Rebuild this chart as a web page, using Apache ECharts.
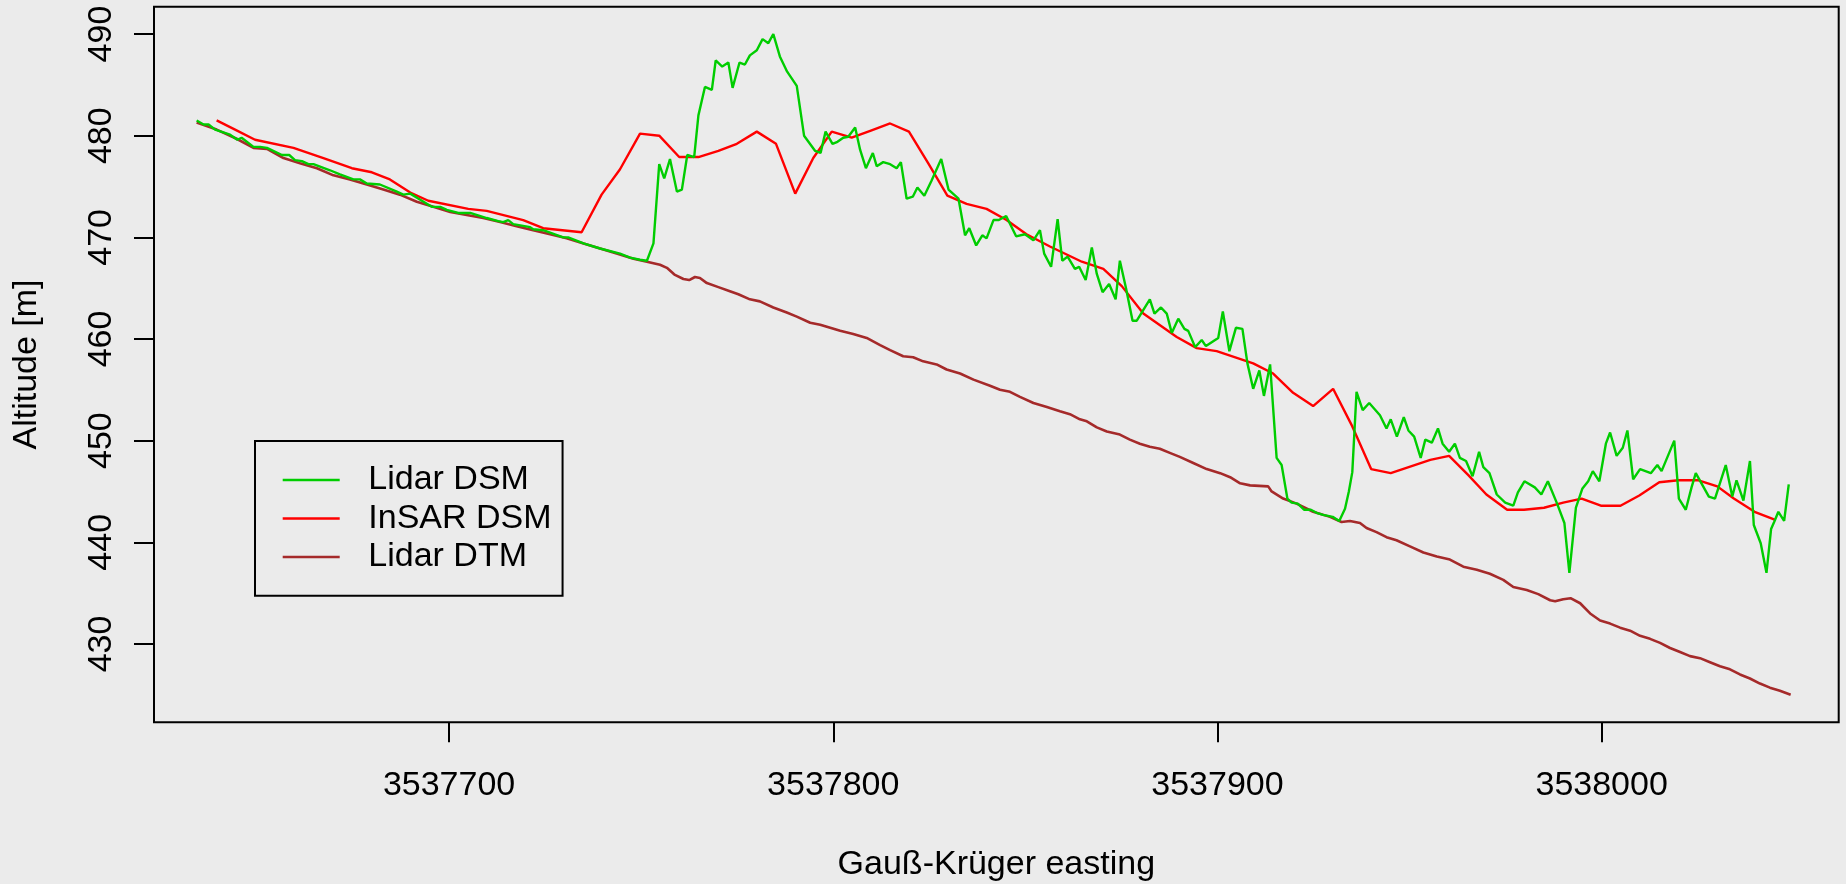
<!DOCTYPE html>
<html>
<head>
<meta charset="utf-8">
<title>Altitude profile</title>
<script src="https://cdn.jsdelivr.net/npm/echarts@6/dist/echarts.min.js"></script>
<style>
  html, body { margin: 0; padding: 0; background: #EBEBEB; }
  #chart { width: 1846px; height: 884px; }
</style>
</head>
<body>
<div id="chart"></div>
<script>
// Profile along the Gauß-Krüger easting: surface and terrain models.

const xTickValues = [3537700, 3537800, 3537900, 3538000];
const yTickValues = [430, 440, 450, 460, 470, 480, 490];

// Lidar surface model (DSM)
const lidarDsmEasting = [
  3537634.3, 3537636.1, 3537637.4, 3537639.1, 3537643.0, 3537644.9, 3537646.0, 3537649.1, 3537650.8, 3537652.6,
  3537656.5, 3537658.4, 3537659.9, 3537661.7, 3537663.4, 3537664.7, 3537669.0, 3537671.6, 3537675.1, 3537676.8,
  3537678.6, 3537682.0, 3537686.4, 3537688.1, 3537689.9, 3537692.5, 3537695.5, 3537697.7, 3537699.4, 3537702.4,
  3537705.5, 3537709.8, 3537712.8, 3537714.1, 3537715.4, 3537716.7, 3537721.1, 3537721.9, 3537724.5, 3537729.7,
  3537731.0, 3537735.0, 3537739.3, 3537744.5, 3537747.1, 3537749.7, 3537751.5, 3537753.2, 3537754.7, 3537756.0,
  3537757.5, 3537759.3, 3537760.6, 3537762.0, 3537763.8, 3537764.9, 3537766.6, 3537768.4, 3537769.4, 3537771.1,
  3537772.7, 3537773.8, 3537775.6, 3537777.0, 3537778.3, 3537780.1, 3537781.6, 3537783.1, 3537784.4, 3537786.1,
  3537788.0, 3537790.5, 3537792.4, 3537795.3, 3537796.7, 3537798.0, 3537799.8, 3537801.1, 3537802.6, 3537803.9,
  3537805.7, 3537807.0, 3537808.5, 3537810.3, 3537811.3, 3537813.0, 3537814.8, 3537816.5, 3537817.6, 3537819.1,
  3537820.7, 3537821.9, 3537823.7, 3537825.6, 3537828.1, 3537830.0, 3537832.6, 3537834.3, 3537835.4, 3537837.2,
  3537838.8, 3537839.9, 3537841.7, 3537843.1, 3537845.0, 3537847.6, 3537849.9, 3537852.1, 3537853.8, 3537854.9,
  3537856.7, 3537858.4, 3537859.6, 3537861.0, 3537862.9, 3537864.0, 3537865.7, 3537867.3, 3537868.6, 3537870.1,
  3537871.8, 3537873.5, 3537874.6, 3537876.2, 3537877.9, 3537879.0, 3537882.4, 3537883.6, 3537885.3, 3537886.8,
  3537888.1, 3537889.8, 3537891.4, 3537892.4, 3537894.2, 3537895.9, 3537897.0, 3537900.2, 3537901.4, 3537903.1,
  3537904.8, 3537906.5, 3537907.8, 3537909.3, 3537910.9, 3537912.1, 3537913.7, 3537915.4, 3537916.7, 3537918.2,
  3537919.3, 3537920.9, 3537922.6, 3537924.3, 3537925.8, 3537927.5, 3537930.0, 3537931.7, 3537933.2, 3537934.2,
  3537935.1, 3537936.2, 3537937.8, 3537939.5, 3537942.3, 3537944.0, 3537945.1, 3537946.7, 3537948.5, 3537949.7,
  3537951.2, 3537952.9, 3537954.1, 3537955.8, 3537957.4, 3537958.6, 3537960.3, 3537961.8, 3537963.1, 3537964.7,
  3537966.4, 3537968.1, 3537969.2, 3537970.8, 3537972.7, 3537974.9, 3537977.0, 3537978.2, 3537979.9, 3537982.6,
  3537984.3, 3537986.0, 3537988.4, 3537990.3, 3537991.6, 3537993.3, 3537995.0, 3537996.5, 3537997.7, 3537999.4,
  3538001.1, 3538002.2, 3538003.9, 3538005.5, 3538006.7, 3538008.2, 3538010.0, 3538012.8, 3538014.5, 3538015.6,
  3538018.9, 3538020.1, 3538021.9, 3538023.4, 3538024.5, 3538027.9, 3538029.5, 3538032.3, 3538034.0, 3538035.1,
  3538036.9, 3538038.6, 3538039.6, 3538041.4, 3538042.9, 3538044.1, 3538044.9, 3538046.0, 3538047.5, 3538048.7
];
const lidarDsmAltitude = [
  481.5, 481.1, 481.1, 480.6, 480.1, 479.6, 479.8, 478.9, 478.9, 478.8,
  478.1, 478.1, 477.6, 477.5, 477.2, 477.2, 476.6, 476.2, 475.7, 475.7,
  475.3, 475.2, 474.5, 474.2, 474.3, 473.7, 473.0, 473.0, 472.7, 472.4,
  472.4, 471.9, 471.6, 471.5, 471.7, 471.3, 471.0, 470.8, 470.7, 470.0,
  470.0, 469.4, 468.9, 468.4, 468.0, 467.8, 467.7, 469.4, 477.2, 475.8,
  477.7, 474.5, 474.7, 478.1, 477.9, 482.0, 484.8, 484.5, 487.4, 486.8,
  487.2, 484.7, 487.2, 487.0, 487.9, 488.4, 489.5, 489.1, 490.0, 487.8,
  486.3, 484.9, 480.0, 478.5, 478.3, 480.4, 479.2, 479.4, 479.8, 479.9,
  480.8, 478.6, 476.8, 478.3, 477.0, 477.4, 477.2, 476.8, 477.4, 473.8,
  474.0, 474.9, 474.1, 475.6, 477.7, 474.7, 473.8, 470.2, 470.9, 469.2,
  470.2, 469.9, 471.7, 471.7, 472.1, 470.1, 470.3, 469.7, 470.7, 468.4,
  467.1, 471.8, 467.7, 468.1, 466.9, 467.1, 465.8, 469.0, 466.4, 464.6,
  465.4, 463.9, 467.7, 465.0, 461.8, 461.8, 463.9, 462.5, 463.1, 462.5,
  460.6, 462.0, 461.0, 460.8, 459.2, 459.9, 459.3, 460.1, 462.7, 458.8,
  461.1, 461.0, 457.6, 455.1, 456.9, 454.4, 457.5, 448.3, 447.6, 444.3,
  443.9, 443.8, 443.2, 443.2, 442.9, 442.7, 442.5, 442.1, 443.3, 445.0,
  446.9, 454.8, 453.0, 453.7, 452.5, 451.2, 452.1, 450.4, 452.3, 451.0,
  450.4, 448.3, 450.1, 449.8, 451.2, 449.7, 448.9, 449.7, 448.3, 448.0,
  446.5, 448.9, 447.4, 446.8, 444.7, 443.9, 443.6, 444.9, 446.0, 445.4,
  444.7, 446.0, 443.8, 441.9, 437.0, 443.4, 445.3, 446.0, 447.0, 446.0,
  449.7, 450.8, 448.5, 449.3, 451.0, 446.2, 447.2, 446.8, 447.6, 447.0,
  450.0, 444.3, 443.2, 445.4, 446.8, 444.5, 444.3, 447.6, 444.5, 446.1,
  444.1, 448.0, 441.7, 439.9, 437.0, 441.3, 442.0, 443.0, 442.1, 445.7
];

// InSAR surface model (DSM)
const insarDsmEasting = [
  3537639.5, 3537644.3, 3537649.5, 3537659.5, 3537667.3, 3537674.7, 3537679.9, 3537684.6, 3537689.9, 3537694.6,
  3537705.0, 3537709.8, 3537719.3, 3537724.5, 3537734.5, 3537739.7, 3537744.5, 3537749.7, 3537754.7, 3537759.9,
  3537764.9, 3537770.1, 3537774.9, 3537780.1, 3537785.1, 3537790.1, 3537794.8, 3537799.6, 3537804.8, 3537809.8,
  3537814.8, 3537819.7, 3537824.7, 3537829.7, 3537834.7, 3537839.9, 3537845.1, 3537850.3, 3537856.4, 3537864.7,
  3537870.3, 3537875.1, 3537880.7, 3537889.4, 3537894.6, 3537899.8, 3537909.3, 3537914.5, 3537919.7, 3537924.9,
  3537930.1, 3537935.1, 3537940.0, 3537945.1, 3537955.4, 3537960.3, 3537965.3, 3537970.0, 3537975.4, 3537979.8,
  3537985.0, 3537990.0, 3537994.8, 3537999.8, 3538004.9, 3538009.8, 3538015.0, 3538020.0, 3538025.2, 3538030.1,
  3538034.4, 3538039.8, 3538045.2
];
const insarDsmAltitude = [
  481.5, 480.6, 479.6, 478.8, 477.8, 476.8, 476.4, 475.7, 474.4, 473.6,
  472.8, 472.6, 471.7, 470.9, 470.5, 474.2, 476.7, 480.2, 480.0, 477.9,
  477.9, 478.5, 479.2, 480.4, 479.2, 474.3, 477.8, 480.4, 479.8, 480.5,
  481.2, 480.4, 477.3, 474.1, 473.3, 472.8, 471.7, 470.3, 469.1, 467.6,
  466.9, 465.2, 462.5, 460.2, 459.1, 458.8, 457.6, 456.6, 454.7, 453.4,
  455.1, 451.4, 447.2, 446.8, 448.1, 448.5, 446.6, 444.7, 443.2, 443.2,
  443.4, 443.9, 444.3, 443.6, 443.6, 444.6, 445.9, 446.1, 446.1, 445.5,
  444.3, 443.0, 442.2
];

// Lidar terrain model (DTM)
const lidarDtmEasting = [
  3537634.3, 3537639.5, 3537644.7, 3537649.1, 3537652.6, 3537656.9, 3537661.2, 3537665.6, 3537669.9, 3537674.2,
  3537678.6, 3537682.9, 3537687.2, 3537691.6, 3537695.9, 3537700.3, 3537704.6, 3537708.9, 3537713.3, 3537717.6,
  3537721.9, 3537726.3, 3537730.6, 3537735.0, 3537739.3, 3537743.6, 3537748.0, 3537751.5, 3537754.9, 3537756.7,
  3537758.8, 3537761.0, 3537762.5, 3537764.0, 3537765.3, 3537767.1, 3537770.1, 3537773.1, 3537775.3, 3537778.3,
  3537780.9, 3537784.4, 3537787.9, 3537790.5, 3537794.0, 3537796.6, 3537799.2, 3537801.8, 3537805.2, 3537808.7,
  3537812.2, 3537814.8, 3537818.2, 3537820.8, 3537823.4, 3537826.9, 3537829.5, 3537833.0, 3537836.5, 3537840.8,
  3537843.4, 3537846.0, 3537848.6, 3537852.1, 3537855.6, 3537859.0, 3537861.6, 3537864.2, 3537866.0, 3537868.6,
  3537871.2, 3537874.6, 3537877.2, 3537879.8, 3537882.4, 3537885.0, 3537887.6, 3537890.2, 3537893.7, 3537897.2,
  3537900.7, 3537903.3, 3537905.9, 3537908.5, 3537913.2, 3537914.1, 3537917.1, 3537920.6, 3537924.9, 3537929.3,
  3537932.3, 3537934.5, 3537937.1, 3537938.8, 3537941.4, 3537944.0, 3537946.6, 3537950.1, 3537953.6, 3537957.1,
  3537960.5, 3537964.0, 3537967.5, 3537970.9, 3537974.4, 3537977.0, 3537980.5, 3537983.5, 3537986.6, 3537987.9,
  3537990.0, 3537991.9, 3537994.4, 3537997.0, 3537999.6, 3538002.2, 3538004.8, 3538007.4, 3538010.0, 3538012.6,
  3538015.2, 3538017.8, 3538020.4, 3538023.0, 3538025.6, 3538028.2, 3538030.8, 3538033.4, 3538036.0, 3538038.6,
  3538041.2, 3538043.8, 3538046.4, 3538049.2
];
const lidarDtmAltitude = [
  481.3, 480.6, 479.7, 478.8, 478.7, 477.8, 477.3, 476.8, 476.1, 475.7,
  475.2, 474.7, 474.2, 473.5, 473.0, 472.5, 472.2, 471.9, 471.5, 471.1,
  470.7, 470.3, 469.9, 469.4, 468.9, 468.4, 467.9, 467.6, 467.3, 467.0,
  466.3, 465.9, 465.8, 466.1, 466.0, 465.5, 465.1, 464.7, 464.4, 463.9,
  463.7, 463.1, 462.6, 462.2, 461.6, 461.4, 461.1, 460.8, 460.5, 460.1,
  459.4, 458.9, 458.3, 458.2, 457.8, 457.5, 457.0, 456.6, 456.0, 455.4,
  455.0, 454.8, 454.3, 453.7, 453.3, 452.9, 452.6, 452.1, 451.9, 451.3,
  450.9, 450.6, 450.1, 449.7, 449.4, 449.2, 448.8, 448.4, 447.8, 447.2,
  446.8, 446.4, 445.8, 445.6, 445.5, 445.0, 444.3, 443.8, 443.0, 442.5,
  442.0, 442.1, 441.9, 441.4, 441.0, 440.5, 440.2, 439.6, 439.0, 438.6,
  438.3, 437.6, 437.3, 436.9, 436.3, 435.6, 435.3, 434.9, 434.3, 434.2,
  434.4, 434.5, 434.0, 433.0, 432.3, 432.0, 431.6, 431.3, 430.8, 430.5,
  430.1, 429.6, 429.2, 428.8, 428.6, 428.2, 427.8, 427.5, 427.0, 426.6,
  426.1, 425.7, 425.4, 425.0
];

const seriesNames = ['Lidar DSM', 'InSAR DSM', 'Lidar DTM'];

const FONT = '"Liberation Sans", Arial, Helvetica, sans-serif';
const pairs = (xs, ys) => xs.map((x, i) => [x, ys[i]]);

function lineSeries(name, xs, ys, color, width, z) {
  return {
    type: 'line',
    name: name,
    data: pairs(xs, ys),
    symbol: 'none',
    showSymbol: false,
    smooth: false,
    clip: true,
    z: z,
    silent: true,
    emphasis: { disabled: true },
    itemStyle: { color: color },
    lineStyle: { color: color, width: width }
  };
}

const chart = echarts.init(document.getElementById('chart'), null, { renderer: 'canvas' });

chart.setOption({
  backgroundColor: '#EBEBEB',
  animation: false,
  textStyle: { fontFamily: FONT, color: '#000' },
  grid: {
    left: 154, top: 6.7, width: 1684.7, height: 715.6,
    show: true, borderColor: '#000', borderWidth: 2,
    backgroundColor: 'transparent',
    containLabel: false, outerBoundsMode: 'none'
  },
  xAxis: {
    type: 'value',
    min: 3537623.2, max: 3538061.7,
    axisLine: { show: false },
    splitLine: { show: false },
    axisTick: { show: true, length: 20, lineStyle: { color: '#000', width: 2 }, customValues: xTickValues },
    axisLabel: {
      customValues: xTickValues,
      formatter: v => String(v),
      fontSize: 34, color: '#000', fontFamily: FONT, margin: 46
    },
    name: 'Gauß-Krüger easting',
    nameLocation: 'middle',
    nameGap: 125,
    nameTextStyle: { fontSize: 34, color: '#000', fontFamily: FONT }
  },
  yAxis: {
    type: 'value',
    min: 422.29, max: 492.69,
    axisLine: { show: false },
    splitLine: { show: false },
    axisTick: { show: true, length: 20, lineStyle: { color: '#000', width: 2 }, customValues: yTickValues },
    axisLabel: {
      customValues: yTickValues,
      formatter: v => String(v),
      rotate: 90,
      fontSize: 34, color: '#000', fontFamily: FONT, margin: 35
    },
    name: 'Altitude [m]',
    nameLocation: 'middle',
    nameRotate: 90,
    nameGap: 110,
    nameTextStyle: { fontSize: 34, color: '#000', fontFamily: FONT }
  },
  legend: {
    data: seriesNames,
    orient: 'vertical',
    left: 255, top: 441,
    padding: [19.75, 11, 19.5, 27.7],
    itemGap: 0,
    itemWidth: 57,
    itemHeight: 2.4,
    icon: 'rect',
    selectedMode: false,
    borderColor: '#000',
    borderWidth: 2,
    backgroundColor: 'transparent',
    textStyle: { fontSize: 34, color: '#000', fontFamily: FONT, lineHeight: 38.5, padding: [0, 0, 0, 23.6] }
  },
  series: [
    lineSeries(seriesNames[2], lidarDtmEasting, lidarDtmAltitude, '#A52A2A', 2.6, 2),
    lineSeries(seriesNames[1], insarDsmEasting, insarDsmAltitude, '#FF0000', 2.4, 3),
    lineSeries(seriesNames[0], lidarDsmEasting, lidarDsmAltitude, '#00CD00', 2.4, 4)
  ]
});
</script>
</body>
</html>
